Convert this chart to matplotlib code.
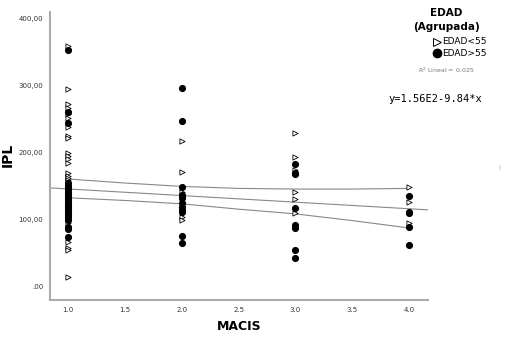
import numpy as np
import matplotlib
matplotlib.use('Agg')
import matplotlib.pyplot as plt

# MACIS groups and IPL values
young_x = [1.0] * 30 + [2.0] * 6 + [3.0] * 6 + [4.0] * 3
young_y = [360, 295, 273, 267, 258, 252, 239, 225, 222, 200, 196, 191, 185, 170, 166,
           163, 160, 157, 154, 150, 145, 140, 135, 120, 110, 95, 67, 58, 55, 15,
           218, 172, 141, 134, 104, 100,
           230, 194, 175, 142, 131, 110,
           149, 127, 96]
old_x = [1.0] * 23 + [2.0] * 11 + [3.0] * 8 + [4.0] * 5
old_y = [354, 261, 245, 155, 150, 146, 142, 138, 135, 132, 128, 125, 122, 120, 117,
         115, 112, 108, 105, 100, 90, 87, 75,
         297, 247, 149, 137, 133, 125, 120, 115, 112, 76, 66,
         184, 170, 168, 118, 92, 88, 55, 43,
         136, 112, 110, 90, 63]

# fit (from the chart's equation) and mean CI band read at these x
intercept, slope = 156.0, -9.84
ci_x = [1.0, 1.5, 2.0, 2.5, 3.0, 3.5, 4.0]
ci_upper = [161, 155, 150, 147, 146, 146, 147]
ci_lower = [133, 129, 124, 116, 109, 99, 88]

yticks = [0, 100, 200, 300, 400]
ytick_labels = ['.00', '100,00', '200,00', '300,00', '400,00']
xticks = [1.0, 1.5, 2.0, 2.5, 3.0, 3.5, 4.0]

fig = plt.figure(figsize=(5.07, 3.37), dpi=100)
ax = fig.add_axes([50 / 507, 37 / 337, 378 / 507, 288 / 337])

ax.scatter(young_x, young_y, marker='>', s=14, facecolors='white', edgecolors='black',
           linewidths=0.6, zorder=3)
ax.scatter(old_x, old_y, marker='o', s=17, color='black', zorder=3)

xlo, xhi = 0.84, 4.167
xs = np.array([xlo, xhi])
ax.plot(xs, intercept + slope * xs, color='#888888', lw=0.8, zorder=2)
ax.plot(ci_x, ci_upper, color='#888888', lw=0.8, zorder=2)
ax.plot(ci_x, ci_lower, color='#888888', lw=0.8, zorder=2)

ax.set_xlim(xlo, xhi)
ax.set_ylim(-19.4, 410)
ax.set_xticks(xticks)
ax.set_xticklabels([f'{t:.1f}' for t in xticks])
ax.set_yticks(yticks)
ax.set_yticklabels(ytick_labels)
ax.tick_params(length=0, labelsize=5, labelcolor='#333333', pad=5)
for s in ['top', 'right']:
    ax.spines[s].set_visible(False)
for s in ['left', 'bottom']:
    ax.spines[s].set_color('#aaaaaa')
    ax.spines[s].set_linewidth(1.5)

# axis titles placed directly
fig.text(239 / 507, 1 - 326 / 337, 'MACIS', ha='center', va='center', fontsize=9, fontweight='bold')
fig.text(8 / 507, 1 - 155 / 337, 'IPL', ha='center', va='center', fontsize=10,
         fontweight='bold', rotation=90)

# legend block on the right
fig.text(446 / 507, 1 - 13 / 337, 'EDAD', ha='center', va='center', fontsize=7.5, fontweight='bold')
fig.text(446 / 507, 1 - 27 / 337, '(Agrupada)', ha='center', va='center', fontsize=7.5, fontweight='bold')
fig.text(442 / 507, 1 - 42 / 337, 'EDAD<55', ha='left', va='center', fontsize=6.5)
fig.text(442 / 507, 1 - 53 / 337, 'EDAD>55', ha='left', va='center', fontsize=6.5)
ax.plot([437 / 507], [1 - 42 / 337], marker='>', ms=5.5, mfc='white', mec='black', mew=0.7,
        transform=fig.transFigure, clip_on=False)
ax.plot([437 / 507], [1 - 53 / 337], marker='o', ms=6, color='black',
        transform=fig.transFigure, clip_on=False)
fig.text(446 / 507, 1 - 70 / 337, 'R$^2$ Lineal = 0.025', ha='center', va='center',
         fontsize=4.5, color='#777777')
fig.text(388 / 507, 1 - 99 / 337, 'y=1.56E2-9.84*x', ha='left', va='center',
         fontsize=7.5, family='DejaVu Sans Mono')
fig.text(500 / 507, 1 - 168 / 337, '(', ha='center', va='center', fontsize=4, color='#999999')

fig.savefig('out.png', dpi=100)
